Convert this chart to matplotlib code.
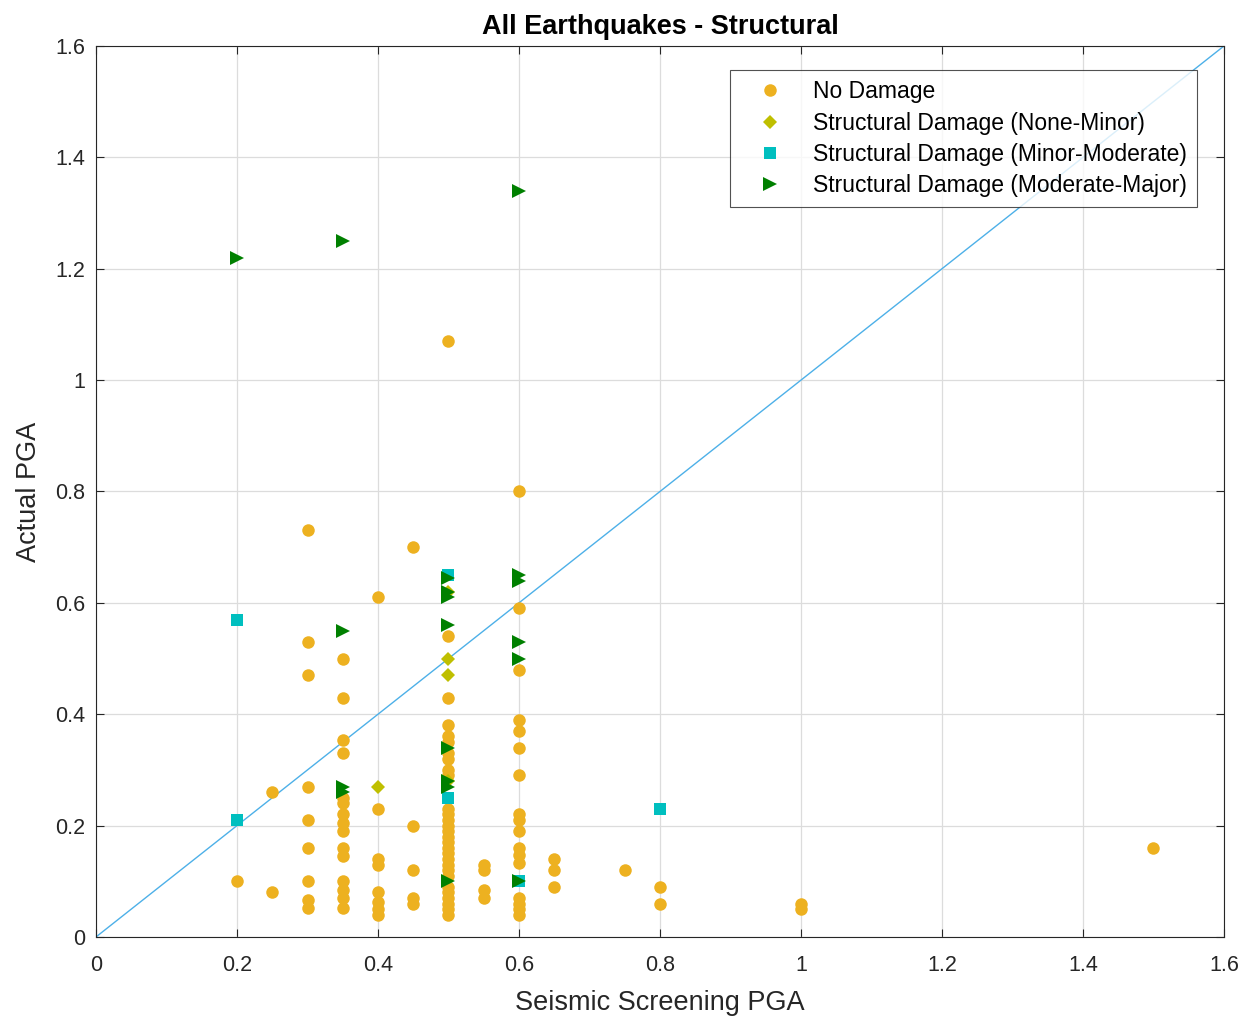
import matplotlib
matplotlib.use("Agg")
import matplotlib.pyplot as plt
import numpy as np

plt.rcParams['font.family'] = ['Liberation Sans', 'DejaVu Sans']

# ---- data ----
nd_x = ([0.2] + [0.25]*2 + [0.3]*9 + [0.35]*15 + [0.4]*8 + [0.45]*5
        + [0.5]*29 + [0.55]*4 + [0.6]*17 + [0.65]*3 + [0.75] + [0.8]*2 + [1.0]*2 + [1.5])
nd_y = ([0.10]
        + [0.26, 0.08]
        + [0.73, 0.53, 0.47, 0.27, 0.21, 0.16, 0.10, 0.066, 0.052]
        + [0.50, 0.43, 0.354, 0.33, 0.24, 0.22, 0.205, 0.19, 0.16, 0.145, 0.10, 0.085, 0.07, 0.052, 0.25]
        + [0.61, 0.23, 0.14, 0.13, 0.08, 0.063, 0.05, 0.04]
        + [0.70, 0.20, 0.12, 0.07, 0.06]
        + [1.07, 0.54, 0.43, 0.38, 0.36, 0.35, 0.33, 0.32, 0.30, 0.29, 0.23, 0.22, 0.21, 0.20,
           0.19, 0.18, 0.17, 0.16, 0.15, 0.14, 0.13, 0.12, 0.11, 0.09, 0.08, 0.07, 0.06, 0.05, 0.04]
        + [0.13, 0.12, 0.085, 0.07]
        + [0.80, 0.59, 0.48, 0.39, 0.37, 0.34, 0.29, 0.22, 0.21, 0.19, 0.16, 0.147, 0.133,
           0.07, 0.05, 0.04, 0.06]
        + [0.14, 0.12, 0.09]
        + [0.12]
        + [0.09, 0.06]
        + [0.06, 0.05]
        + [0.16])

nm_x = [0.4, 0.5, 0.5, 0.5, 0.5]
nm_y = [0.27, 0.50, 0.47, 0.62, 0.28]

mm_x = [0.2, 0.2, 0.5, 0.5, 0.8, 0.6]
mm_y = [0.57, 0.21, 0.65, 0.25, 0.23, 0.10]

mj_x = [0.2, 0.35, 0.6, 0.35, 0.35, 0.35, 0.5, 0.5, 0.5, 0.5, 0.5, 0.5, 0.5, 0.5,
        0.6, 0.6, 0.6, 0.6, 0.6]
mj_y = [1.22, 1.25, 1.34, 0.55, 0.27, 0.26, 0.645, 0.62, 0.61, 0.56, 0.34, 0.28, 0.27, 0.10,
        0.65, 0.64, 0.53, 0.50, 0.10]

ref_line = [0, 1.6]

labels = ['No Damage', 'Structural Damage (None-Minor)',
          'Structural Damage (Minor-Moderate)', 'Structural Damage (Moderate-Major)']
ticks = [0, 0.2, 0.4, 0.6, 0.8, 1, 1.2, 1.4, 1.6]
tick_labels = ['0', '0.2', '0.4', '0.6', '0.8', '1', '1.2', '1.4', '1.6']

# ---- plot ----
fig = plt.figure(figsize=(12.47, 10.16), dpi=100)
ax = fig.add_axes([0.077, 0.0778, 0.9045, 0.8769])

ax.plot(nd_x, nd_y, 'o', color='#EDB120', markersize=9, markeredgewidth=0, label=labels[0], zorder=3)
ax.plot(nm_x, nm_y, 'D', color='#BFBF00', markersize=7.5, markeredgewidth=0, label=labels[1], zorder=3)
ax.plot(mm_x, mm_y, 's', color='#00BFBF', markersize=8, markeredgewidth=0, label=labels[2], zorder=3)
ax.plot(mj_x, mj_y, '>', color='#008000', markersize=10.5, markeredgewidth=0, label=labels[3], zorder=3)
ax.plot(ref_line, ref_line, '-', color='#4DB0E8', linewidth=1.0, zorder=2)

ax.set_xlim(0, 1.6)
ax.set_ylim(0, 1.6)
ax.set_xticks(ticks)
ax.set_xticklabels(tick_labels)
ax.set_yticks(ticks)
ax.set_yticklabels(tick_labels)
ax.grid(True, color='#DCDCDC', linewidth=0.9)
ax.set_axisbelow(True)
ax.tick_params(direction='in', length=6, width=0.8, colors='#262626', labelsize=15.5,
               top=True, right=True)
ax.tick_params(axis='x', pad=13)
ax.tick_params(axis='y', pad=8)
for s in ax.spines.values():
    s.set_color('#262626')
    s.set_linewidth(0.8)

ax.set_xlabel('Seismic Screening PGA', fontsize=19.5, color='#262626', labelpad=10)
ax.set_ylabel('Actual PGA', fontsize=19.5, color='#262626', labelpad=9)
ax.set_title('All Earthquakes - Structural', fontsize=19.5, fontweight='bold', color='black', pad=9)

leg = ax.legend(loc='upper right', bbox_to_anchor=(0.976, 0.973), fontsize=16.5,
                frameon=True, fancybox=False, edgecolor='#262626', borderpad=0.45,
                handletextpad=0.55, labelspacing=0.36, handlelength=2.6, borderaxespad=0)
leg.get_frame().set_linewidth(0.8)

fig.savefig('out.png', dpi=100, facecolor='white')
